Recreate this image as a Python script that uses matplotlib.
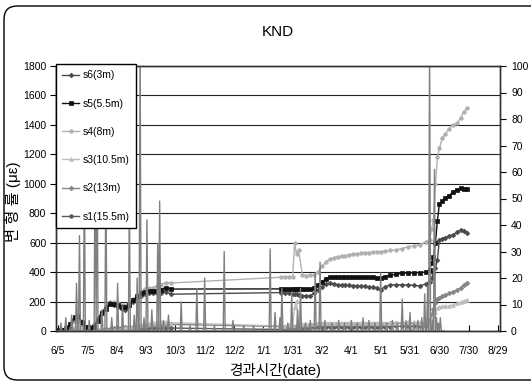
import numpy as np
import matplotlib
matplotlib.use('Agg')
import matplotlib.pyplot as plt
from matplotlib.patches import FancyBboxPatch

plt.rcParams['font.family'] = ['Liberation Sans', 'Noto Sans CJK KR', 'DejaVu Sans']

tick_days = list(range(0, 451, 30))
tick_labels = ['6/5', '7/5', '8/4', '9/3', '10/3', '11/2', '12/2', '1/1', '1/31',
               '3/2', '4/1', '5/1', '5/31', '6/30', '7/30', '8/29']

days = [0, 4, 8, 12, 17, 21, 25, 29, 33, 37, 41, 45, 49, 53, 57, 61, 65, 69, 73, 77, 81, 85, 89, 93, 97, 101, 105, 110, 116,
        228, 232, 236, 240, 242, 244, 246, 250, 254, 258, 262, 266, 270, 274, 278, 282, 286, 290, 294, 298, 302, 306, 310, 314, 318, 322, 326, 330,
        334, 340, 346, 352, 358, 364, 370, 376,
        380, 382, 384, 386, 388, 390, 393, 396, 400, 404, 408, 412, 415, 418]

s6 = [0, 5, 15, 30, 80, 95, 55, 30, 25, 40, 85, 130, 160, 190, 175, 160, 150, 145, 170, 200, 225, 240, 250, 255, 256, 258, 260, 268, 250,
      261, 258, 256, 254, 250, 248, 245, 240, 238, 240, 255, 279, 300, 318, 324, 318, 315, 313, 313, 310, 308, 306, 305, 303, 300, 297, 290, 280,
      300, 313, 315, 313, 313, 310, 306, 320,
      336, 360, 392, 430, 483, 619, 628, 635, 645, 653, 670, 687, 680, 664]

s5 = [5, 10, 20, 45, 95, 100, 60, 25, 20, 30, 70, 120, 150, 185, 185, 175, 165, 160, 180, 210, 235, 255, 265, 270, 270, 275, 280, 295, 285,
      286, 286, 287, 286, 286, 286, 286, 286, 285, 287, 290, 313, 335, 355, 365, 365, 366, 365, 366, 365, 366, 365, 366, 365, 366, 364, 362, 360,
      370, 380, 385, 392, 395, 394, 397, 400,
      415, 460, 506, 600, 750, 860, 885, 905, 920, 945, 960, 968, 966, 964]

s4 = [0, 5, 10, 20, 60, 70, 40, 25, 20, 30, 80, 130, 165, 195, 200, 190, 180, 175, 190, 215, 245, 270, 285, 290, 295, 305, 315, 329, 326,
      365, 367, 368, 369, 596, 520, 551, 380, 375, 378, 380, 404, 440, 470, 488, 498, 505, 508, 512, 518, 521, 524, 527, 530, 533, 535, 537, 540,
      542, 547, 552, 560, 572, 578, 585, 605,
      619, 690, 755, 1000, 1180, 1240, 1311, 1340, 1375, 1400, 1410, 1450, 1490, 1515]

s3 = [0, 5, 10, 20, 30, 25, 15, 10, 5, 5, 5, 5, 5, 5, 5, 10, 15, 20, 22, 27, 30, 38, 42, 50, 55, 60, 63, 60, 56,
      34, 35, 38, 40, 160, 205, 45, 45, 48, 50, 48, 52, 55, 55, 56, 55, 57, 55, 56, 57, 55, 56, 57, 56, 56, 57, 57, 58,
      56, 57, 57, 58, 58, 58, 57, 58,
      60, 75, 100, 130, 155, 165, 167, 168, 170, 178, 188, 195, 205, 211]

s2 = [5, 10, 15, 10, 10, 5, 5, 5, 5, 5, 5, 10, 15, 15, 20, 20, 25, 25, 25, 30, 30, 35, 35, 40, 40, 42, 45, 45, 45,
      30, 30, 32, 30, 30, 30, 30, 32, 35, 38, 40, 45, 48, 50, 50, 48, 50, 50, 48, 50, 50, 50, 50, 48, 50, 50, 50, 50,
      50, 52, 52, 52, 52, 52, 52, 52,
      75, 110, 150, 190, 215, 222, 235, 245, 255, 268, 279, 295, 312, 329]

s1 = [0, 5, 5, 10, 15, 10, 5, 0, 0, 0, 0, 0, 0, 0, 0, 5, 5, 5, 10, 10, 15, 15, 15, 20, 20, 20, 20, 20, 20,
      10, 10, 15, 15, 15, 15, 15, 20, 20, 20, 25, 25, 30, 30, 30, 30, 28, 30, 30, 28, 30, 30, 28, 30, 30, 30, 30, 30,
      30, 30, 32, 32, 32, 32, 32, 32,
      None, None, None, None, None, None, None, None, None, None, None, None, None, None]

rain_day = [3, 8, 14, 19, 22, 27, 32, 38, 40, 45, 49, 55, 61, 66, 73, 78, 81, 84, 88, 91, 96, 102, 104, 108, 113,
            126, 135, 142, 150, 160, 170, 179, 190, 200, 210, 217, 222, 227, 229, 235, 239, 245, 248, 253, 258,
            263, 268, 273, 280, 287, 293, 300, 306, 312, 318, 324, 330, 336, 342, 347, 352, 356, 360, 364, 368,
            372, 375, 378, 380, 383, 385, 387, 389, 391]
rain_val = [3, 5, 6, 18, 36, 60, 4, 80, 75, 8, 60, 5, 18, 10, 50, 6, 20, 110, 5, 42, 8, 33, 49, 4, 6,
            11, 2, 16, 20, 2, 30, 4, 2, 2, 1, 31, 7, 5, 16, 3, 14, 8, 16, 3, 4,
            22, 26, 4, 3, 4, 3, 4, 3, 5, 4, 3, 22, 3, 4, 3, 12, 4, 7, 3, 4,
            5, 14, 17, 110, 4, 61, 5, 3, 5]

W, H = 531, 383
fig = plt.figure(figsize=(W / 100, H / 100), dpi=100)

# rounded outer frame
frame = FancyBboxPatch((4 / W, 3 / H), 1.2, (377 - 3) / H,
                       boxstyle="round,pad=0,rounding_size=0.025",
                       transform=fig.transFigure, fill=False, edgecolor='black',
                       linewidth=1.0, mutation_aspect=W / H)
fig.patches.append(frame)

ax = fig.add_axes([56 / W, 1 - 331 / H, 444 / W, 265 / H])
ax2 = ax.twinx()

def arr(v):
    return np.array([np.nan if x is None else x for x in v], dtype=float)

styles = [
    ('s1(15.5m)', s1, '#5a5a5a', 'o', 2.6),
    ('s2(13m)', s2, '#858585', 'D', 2.4),
    ('s3(10.5m)', s3, '#bdbdbd', '^', 2.8),
    ('s4(8m)', s4, '#b0b0b0', 'o', 2.6),
    ('s6(3m)', s6, '#4a4a4a', 'D', 2.4),
    ('s5(5.5m)', s5, '#111111', 's', 2.6),
]
handles = {}
for lab, vals, col, mk, ms in styles:
    ln, = ax.plot(days, arr(vals), color=col, marker=mk, markersize=ms, lw=1.0,
                  markeredgewidth=0.5, markeredgecolor=col, label=lab)
    handles[lab] = ln

rain = np.zeros(max(rain_day) + 5)
rain[rain_day] = rain_val
ax2.plot(np.arange(len(rain)), rain, color='#808080', lw=1.0)

ax.set_xlim(-2, 452)
ax.set_ylim(0, 1800)
ax2.set_ylim(0, 100)
ax.set_xticks(tick_days)
ax.set_xticklabels(tick_labels)
ax.set_yticks(range(0, 1801, 200))
ax2.set_yticks(range(0, 101, 10))

ax.yaxis.grid(True, color='#222222', lw=0.8)
ax.set_axisbelow(True)

ax.tick_params(axis='x', direction='in', length=4, labelsize=7.5, pad=11)
ax.tick_params(axis='y', direction='out', length=4, labelsize=7.5, pad=3)
ax2.tick_params(axis='y', direction='out', length=4, labelsize=7.5, pad=4)
for a in (ax, ax2):
    for sp in a.spines.values():
        sp.set_color('#333333')
        sp.set_linewidth(1.0)

order = ['s6(3m)', 's5(5.5m)', 's4(8m)', 's3(10.5m)', 's2(13m)', 's1(15.5m)']
leg = ax2.legend([handles[k] for k in order], order, loc='upper left',
                 bbox_to_anchor=(0, 1.007), borderaxespad=0, fontsize=7.5,
                 labelspacing=1.75, handlelength=1.6, handletextpad=0.4,
                 borderpad=0.6, fancybox=False, framealpha=1, edgecolor='black')
leg.get_frame().set_linewidth(1.0)

fig.text(0.5 * (56 + 500) / W, 1 - 32 / H, 'KND', ha='center', va='center', fontsize=11)
fig.text(275 / W, 1 - 371 / H, '경과시간(date)', ha='center', va='center', fontsize=10.5)
fig.text(13 / W, 1 - 202 / H, '변 형 률 (με)', ha='center', va='center', rotation=90, fontsize=11)

fig.savefig('out.png', dpi=100)
